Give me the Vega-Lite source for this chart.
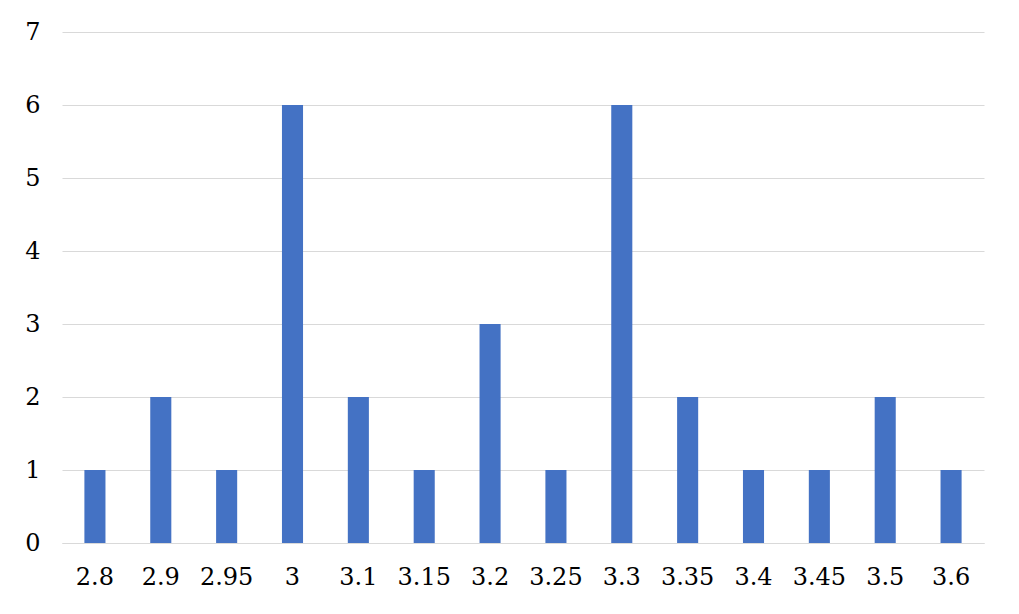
{
  "$schema": "https://vega.github.io/schema/vega-lite/v6.json",
  "width": 922,
  "height": 511,
  "autosize": {"type": "none"},
  "padding": {"left": 62, "top": 32, "right": 35, "bottom": 71},
  "background": "white",
  "config": {"view": {"stroke": null}, "font": "DejaVu Serif"},
  "data": {"values": [
    {"x": "2.8", "n": 1},
    {"x": "2.9", "n": 2},
    {"x": "2.95", "n": 1},
    {"x": "3", "n": 6},
    {"x": "3.1", "n": 2},
    {"x": "3.15", "n": 1},
    {"x": "3.2", "n": 3},
    {"x": "3.25", "n": 1},
    {"x": "3.3", "n": 6},
    {"x": "3.35", "n": 2},
    {"x": "3.4", "n": 1},
    {"x": "3.45", "n": 1},
    {"x": "3.5", "n": 2},
    {"x": "3.6", "n": 1}
  ]},
  "mark": {"type": "bar", "color": "#4472C4"},
  "encoding": {
    "x": {
      "field": "x", "type": "ordinal", "sort": null, "title": null,
      "scale": {"paddingInner": 0.68, "paddingOuter": 0.34},
      "axis": {"labelAngle": 0, "labelFontSize": 24, "labelColor": "#000000", "labelPadding": 22, "labelOverlap": false, "ticks": false, "domainColor": "#d9d9d9", "domainWidth": 1, "grid": false}
    },
    "y": {
      "field": "n", "type": "quantitative", "title": null,
      "scale": {"domain": [0, 7], "nice": false},
      "axis": {"values": [0,1,2,3,4,5,6,7], "labelOverlap": false, "labelFontSize": 24, "labelColor": "#000000", "labelPadding": 22, "ticks": false, "domain": false, "gridColor": "#d9d9d9", "gridWidth": 1}
    }
  }
}
